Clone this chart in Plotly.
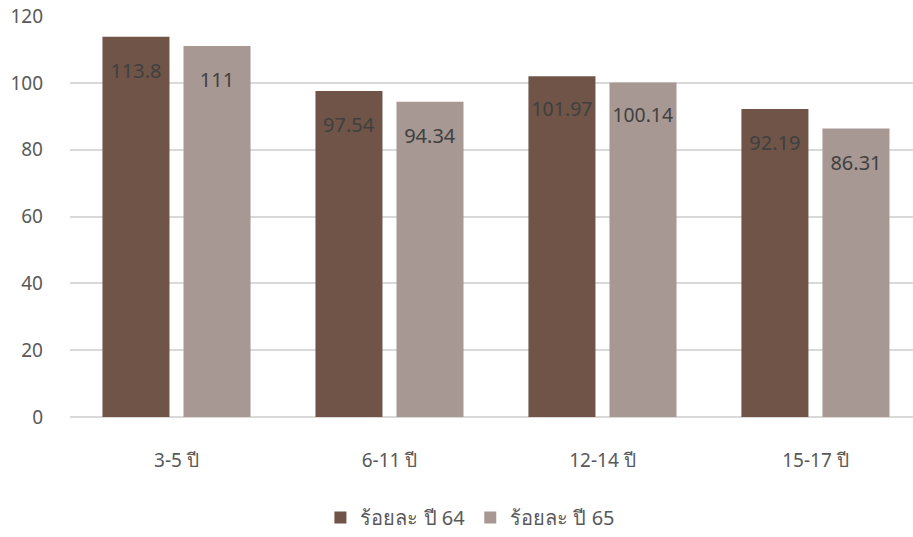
import plotly.graph_objects as go

categories = ["3-5 ปี", "6-11 ปี", "12-14 ปี", "15-17 ปี"]
values_64 = [113.8, 97.54, 101.97, 92.19]
values_65 = [111, 94.34, 100.14, 86.31]
series_names = ["ร้อยละ ปี 64", "ร้อยละ ปี 65"]
y_ticks = [0, 20, 40, 60, 80, 100, 120]

colors = ["#6f5447", "#a79893"]
font_family = "Noto Sans, DejaVu Sans, sans-serif"

fig = go.Figure()
for name, vals, col in zip(series_names, [values_64, values_65], colors):
    fig.add_trace(go.Bar(
        x=categories, y=vals, name=name,
        marker=dict(color=col, line=dict(width=0)),
        text=["<span style='font-size:11px'>\u00a0</span><br>" + f"{v:g}" for v in vals],
        textposition="inside", insidetextanchor="end",
        textfont=dict(color="#404040", size=20, family=font_family),
        textangle=0,
    ))

fig.update_layout(
    width=913, height=537,
    margin=dict(l=70, r=0, t=16, b=114),
    paper_bgcolor="white", plot_bgcolor="white",
    barmode="group", bargap=0.239, bargroupgap=0.173,
    font=dict(family=font_family, color="#595959", size=19),
    legend=dict(orientation="h", x=0.475, xanchor="center", y=-0.252, yanchor="middle",
                font=dict(size=20, color="#595959"), traceorder="normal"),
    uniformtext=dict(mode=False),
)
fig.update_xaxes(range=[-0.5, 3.458], showgrid=False, showline=False, ticks="",
                 automargin=False,
                 ticklabelstandoff=30, tickfont=dict(size=19, color="#595959"))
fig.update_yaxes(range=[0, 120.01], tickvals=y_ticks, showgrid=True, gridcolor="#d9d9d9",
                 gridwidth=1.5, zeroline=True, zerolinecolor="#d9d9d9", zerolinewidth=1.5,
                 ticks="", ticklabelstandoff=26, ticklabeloverflow="allow", automargin=False,
                 tickfont=dict(size=19, color="#595959"))

fig.write_html("out.html", config={"displayModeBar": False},
               post_script="document.body.style.margin='0px';")
